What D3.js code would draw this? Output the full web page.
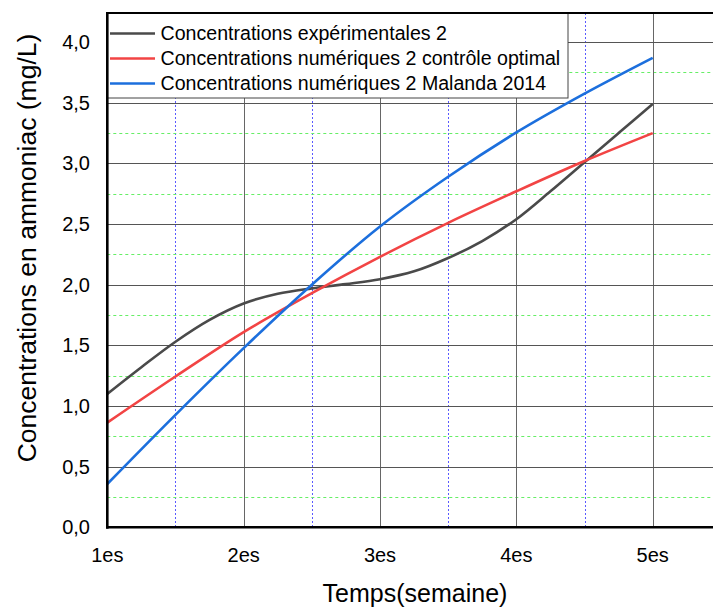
<!DOCTYPE html>
<html>
<head>
<meta charset="utf-8">
<script src="https://cdn.jsdelivr.net/npm/d3@7"></script>
<style>
  body { margin: 0; background: #fff; }
  svg { display: block; font-family: "Liberation Sans", Arial, sans-serif; }
</style>
</head>
<body>
<div id="chart"></div>
<script>
// weeks sampled for the experimental curve (quarter weeks)
const weeksFine = [1, 1.25, 1.5, 1.75, 2, 2.25, 2.5, 2.75, 3, 3.25, 3.5, 3.75, 4, 4.25, 4.5, 4.75, 5];
const experimental = [1.10, 1.32, 1.53, 1.71, 1.845, 1.925, 1.97, 2.005, 2.045, 2.11, 2.22, 2.36, 2.54, 2.77, 3.01, 3.25, 3.49];

// weeks sampled for the two numerical curves (half weeks)
const weeks = [1, 1.5, 2, 2.5, 3, 3.5, 4, 4.5, 5];
const optimalControl = [0.863, 1.243, 1.609, 1.93, 2.23, 2.51, 2.77, 3.02, 3.25];
const malanda2014 = [0.357, 0.927, 1.477, 2.0, 2.48, 2.89, 3.255, 3.575, 3.87];

const xTicks = [1, 2, 3, 4, 5];
const xTickLabels = ['1es', '2es', '3es', '4es', '5es'];
const yTicks = [0, 0.5, 1, 1.5, 2, 2.5, 3, 3.5, 4];

const seriesNames = [
  'Concentrations expérimentales 2',
  'Concentrations numériques 2 contrôle optimal',
  'Concentrations numériques 2 Malanda 2014',
];
const seriesColors = ['#4a4a4a', '#f24444', '#1c6fdd'];

const width = 713;
const height = 607;
const plotLeft = 107.3;
const plotTop = 13;
const plotBottom = 527.3;

const x = d3.scaleLinear().domain([1, 5.45]).range([plotLeft, plotLeft + 4.45 * 136.35]);
const y = d3.scaleLinear().domain([0, 4.24]).range([plotBottom, plotTop]);

const svg = d3.select('#chart').append('svg')
  .attr('width', width)
  .attr('height', height);

// minor grid: blue dotted verticals, green dotted horizontals
svg.append('g')
  .selectAll('line')
  .data([1.5, 2.5, 3.5, 4.5])
  .enter()
  .append('line')
  .attr('x1', (d) => Math.round(x(d)) + 0.5)
  .attr('x2', (d) => Math.round(x(d)) + 0.5)
  .attr('y1', plotTop)
  .attr('y2', plotBottom)
  .attr('stroke', '#5a5aff')
  .attr('stroke-width', 1)
  .attr('stroke-dasharray', '2,2');

svg.append('g')
  .selectAll('line')
  .data([0.25, 0.75, 1.25, 1.75, 2.25, 2.75, 3.25, 3.75])
  .enter()
  .append('line')
  .attr('x1', plotLeft)
  .attr('x2', width)
  .attr('y1', (d) => Math.round(y(d)) + 0.5)
  .attr('y2', (d) => Math.round(y(d)) + 0.5)
  .attr('stroke', '#66ee66')
  .attr('stroke-width', 1)
  .attr('stroke-dasharray', '3,3');

// major grid
svg.append('g')
  .selectAll('line')
  .data(xTicks.slice(1))
  .enter()
  .append('line')
  .attr('x1', (d) => Math.round(x(d)) + 0.5)
  .attr('x2', (d) => Math.round(x(d)) + 0.5)
  .attr('y1', plotTop)
  .attr('y2', plotBottom)
  .attr('stroke', '#666')
  .attr('stroke-width', 1);

svg.append('g')
  .selectAll('line')
  .data(yTicks.slice(1))
  .enter()
  .append('line')
  .attr('x1', plotLeft)
  .attr('x2', width)
  .attr('y1', (d) => Math.round(y(d)) + 0.5)
  .attr('y2', (d) => Math.round(y(d)) + 0.5)
  .attr('stroke', '#555')
  .attr('stroke-width', 1);

// series
const line = d3.line()
  .x((d) => x(d[0]))
  .y((d) => y(d[1]))
  .curve(d3.curveCatmullRom.alpha(0.5));

const series = [
  d3.zip(weeksFine, experimental),
  d3.zip(weeks, optimalControl),
  d3.zip(weeks, malanda2014),
];

svg.append('g')
  .selectAll('path')
  .data(series)
  .enter()
  .append('path')
  .attr('d', line)
  .attr('fill', 'none')
  .attr('stroke', (d, i) => seriesColors[i])
  .attr('stroke-width', 2.6);

// legend box in the upper left corner
const legend = svg.append('g');
legend.append('rect')
  .attr('x', plotLeft)
  .attr('y', plotTop)
  .attr('width', 568 - plotLeft)
  .attr('height', 98 - plotTop)
  .attr('fill', '#fff')
  .attr('stroke', '#444')
  .attr('stroke-width', 1);

const rows = legend.selectAll('g.row')
  .data(seriesNames)
  .enter()
  .append('g')
  .attr('class', 'row')
  .attr('transform', (d, i) => `translate(0,${33.5 + i * 25})`);

rows.append('line')
  .attr('x1', 110)
  .attr('x2', 155)
  .attr('stroke', (d, i) => seriesColors[i])
  .attr('stroke-width', 2.6);

rows.append('text')
  .attr('x', 160.5)
  .attr('dy', '0.35em')
  .attr('font-size', 19.6)
  .attr('fill', '#000')
  .text((d) => d);

// frame: top border, left and bottom axes
svg.append('line')
  .attr('x1', plotLeft).attr('x2', width)
  .attr('y1', plotTop).attr('y2', plotTop)
  .attr('stroke', '#000').attr('stroke-width', 2);

svg.append('line')
  .attr('x1', plotLeft).attr('x2', plotLeft)
  .attr('y1', plotTop - 1).attr('y2', plotBottom + 1.5)
  .attr('stroke', '#000').attr('stroke-width', 2.6);

svg.append('line')
  .attr('x1', plotLeft - 1).attr('x2', width)
  .attr('y1', plotBottom).attr('y2', plotBottom)
  .attr('stroke', '#000').attr('stroke-width', 2.6);

// tick labels
svg.append('g')
  .selectAll('text')
  .data(yTicks)
  .enter()
  .append('text')
  .attr('x', 90)
  .attr('y', (d) => y(d))
  .attr('dy', '0.35em')
  .attr('text-anchor', 'end')
  .attr('font-size', 20)
  .text((d) => d3.format('.1f')(d).replace('.', ','));

svg.append('g')
  .selectAll('text')
  .data(xTicks)
  .enter()
  .append('text')
  .attr('x', (d) => x(d))
  .attr('y', 562)
  .attr('text-anchor', 'middle')
  .attr('font-size', 20)
  .text((d, i) => xTickLabels[i]);

// axis titles
svg.append('text')
  .attr('x', 415)
  .attr('y', 602)
  .attr('text-anchor', 'middle')
  .attr('font-size', 25)
  .text('Temps(semaine)');

svg.append('text')
  .attr('transform', 'translate(36,248) rotate(-90)')
  .attr('text-anchor', 'middle')
  .attr('font-size', 26.5)
  .text('Concentrations en ammoniac (mg/L)');
</script>
</body>
</html>
